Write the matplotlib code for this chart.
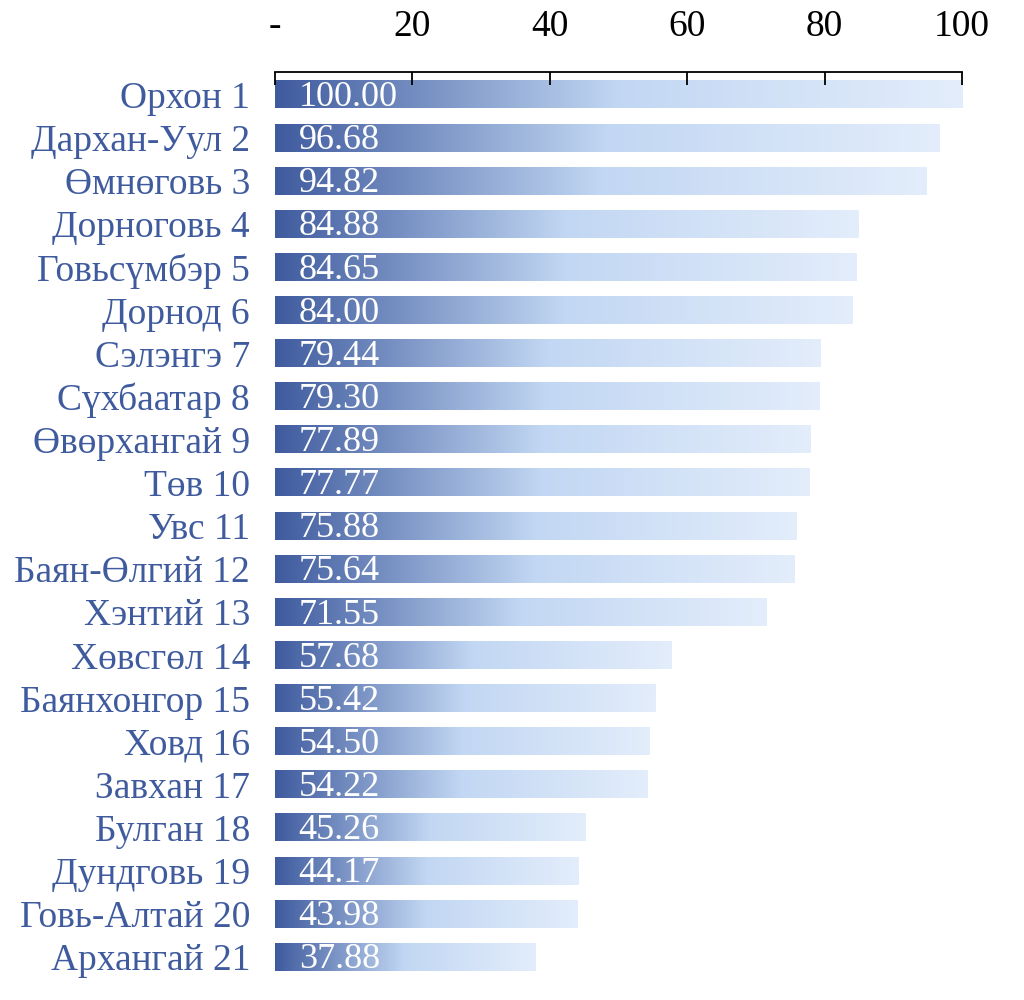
import matplotlib

matplotlib.use("Agg")
import matplotlib.pyplot as plt
import numpy as np
from matplotlib.colors import LinearSegmentedColormap

# data
provinces = [
    "Орхон 1", "Дархан-Уул 2", "Өмнөговь 3", "Дорноговь 4", "Говьсүмбэр 5",
    "Дорнод 6", "Сэлэнгэ 7", "Сүхбаатар 8", "Өвөрхангай 9", "Төв 10",
    "Увс 11", "Баян-Өлгий 12", "Хэнтий 13", "Хөвсгөл 14", "Баянхонгор 15",
    "Ховд 16", "Завхан 17", "Булган 18", "Дундговь 19", "Говь-Алтай 20",
    "Архангай 21",
]
scores = [
    100.00, 96.68, 94.82, 84.88, 84.65, 84.00, 79.44, 79.30, 77.89, 77.77,
    75.88, 75.64, 71.55, 57.68, 55.42, 54.50, 54.22, 45.26, 44.17, 43.98,
    37.88,
]
tick_values = [0, 20, 40, 60, 80, 100]
tick_labels = ["-", "20", "40", "60", "80", "100"]

plt.rcParams["font.family"] = ["Liberation Serif", "DejaVu Serif"]

label_blue = "#3F5B9E"
grad = LinearSegmentedColormap.from_list(
    "bar_grad", [(0.0, "#3F5B9E"), (0.5, "#C2D7F3"), (1.0, "#E3EDFB")]
)
ramp = np.linspace(0, 1, 256).reshape(1, -1)

fig = plt.figure(figsize=(10.24, 10.0), dpi=100)
ax = fig.add_axes([0.2686, 0.02, 0.9395 - 0.2686, 0.928 - 0.02])

bar_h = 0.63
for i, v in enumerate(scores):
    ax.imshow(ramp, cmap=grad, aspect="auto", interpolation="bilinear",
              extent=[0, v, i + bar_h / 2, i - bar_h / 2], zorder=1)
    ax.annotate(f"{v:.2f}", xy=(0, i), xytext=(17, -2), textcoords="offset points",
                ha="left", va="center", color="white", fontsize=26, zorder=3)

ax.set_xlim(0, 100)
ax.set_ylim(len(scores) - 0.47, -0.53)

ax.set_yticks(range(len(provinces)))
ax.set_yticklabels(provinces, color=label_blue, fontsize=27)
ax.tick_params(axis="y", length=0, pad=18)

ax.xaxis.tick_top()
ax.set_xticks(tick_values)
ax.set_xticklabels(tick_labels, fontsize=27)
ax.tick_params(axis="x", direction="in", length=9, width=1.3, pad=20, colors="black")

for side in ("left", "right", "bottom"):
    ax.spines[side].set_visible(False)
ax.spines["top"].set_linewidth(1.3)

fig.savefig("out.png", dpi=100)
